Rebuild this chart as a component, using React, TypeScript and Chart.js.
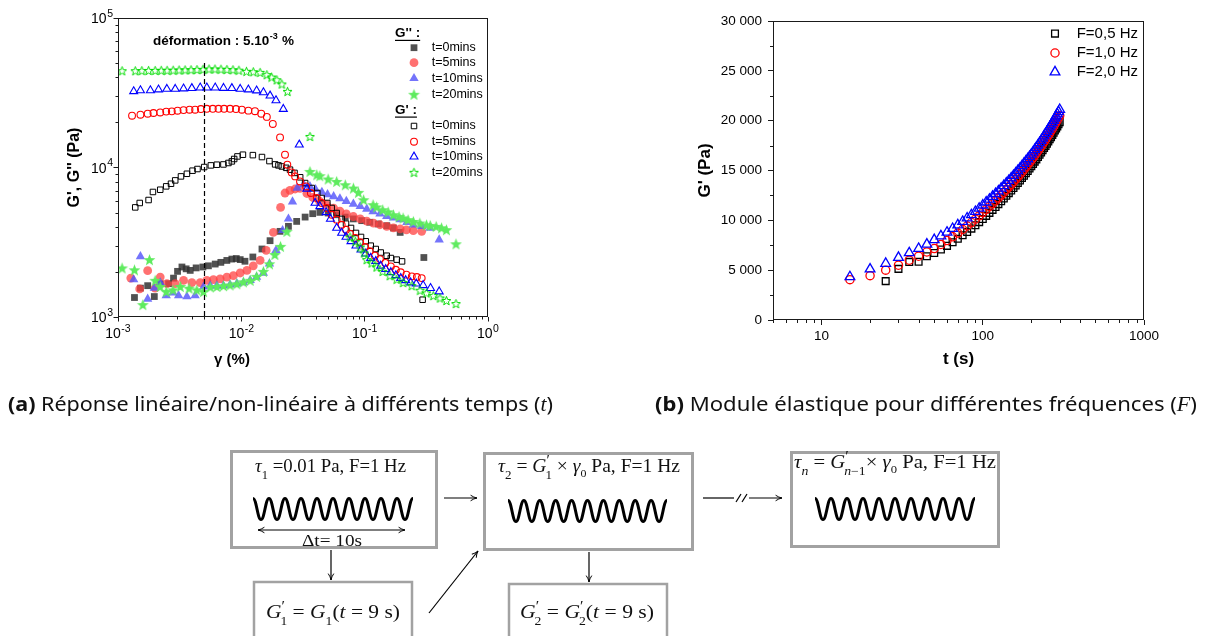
import React, { useEffect, useRef } from 'react';
import { Chart, registerables } from 'chart.js';

Chart.register(...registerables);

const FONT = "'Liberation Sans', Arial, Helvetica, sans-serif";
const SERIF = "'Liberation Serif', 'Times New Roman', serif";

// ================= Figure (a): G', G'' vs strain =================
const gammaTicks = [1e-3, 1e-2, 1e-1, 1];
const gammaTickExps = ['-3', '-2', '-1', '0'];
const modTicks = [1e3, 1e4, 1e5];
const modTickExps = ['3', '4', '5'];
const timeLabelsA = ['t=0mins', 't=5mins', 't=10mins', 't=20mins'];
const strainLine = 5e-3;
const strainLineTop = 5e4;
const annotPos = [1.92e-3, 7.0e4];

// G'' (filled symbols)
const gpp0 = [[1.36e-3,1350],[1.52e-3,1560],[1.74e-3,1620],[1.97e-3,1370],[2.2e-3,1670],[2.57e-3,1670],[2.82e-3,1820],[3.04e-3,2020],[3.3e-3,2160],[3.57e-3,2100],[3.85e-3,2050],[4.3e-3,2130],[4.88e-3,2160],[5.41e-3,2200],[6.14e-3,2260],[6.82e-3,2320],[7.63e-3,2390],[8.38e-3,2440],[9.1e-3,2460],[9.79e-3,2420],[1.07e-2,2360],[1.24e-2,2520],[1.47e-2,2850],[1.71e-2,3240],[2.06e-2,3740],[2.41e-2,4040],[2.81e-2,4360],[3.29e-2,4660],[3.79e-2,4910],[4.33e-2,5010],[5.06e-2,4960],[5.93e-2,4830],[6.96e-2,4660],[8.1e-2,4530],[9.47e-2,4410],[0.11,4300],[0.129,4190],[0.151,4080],[0.171,3940],[0.194,3680],[0.302,2500]];
const gpp5 = [[1.27e-3,1820],[1.5e-3,1540],[1.74e-3,2040],[2.0e-3,1560],[2.2e-3,1850],[2.49e-3,1670],[2.91e-3,1670],[3.4e-3,1760],[3.97e-3,1700],[4.64e-3,1700],[5.25e-3,1760],[5.94e-3,1780],[6.73e-3,1800],[7.63e-3,1850],[8.62e-3,1890],[9.79e-3,1970],[1.11e-2,2050],[1.25e-2,2200],[1.42e-2,2390],[1.59e-2,2790],[1.82e-2,3680],[2.08e-2,5410],[2.26e-2,6750],[2.48e-2,7030],[2.73e-2,7180],[2.99e-2,7250],[3.4e-2,6700],[3.8e-2,6300],[4.3e-2,5950],[4.9e-2,5650],[5.6e-2,5350],[6.3e-2,5100],[7.1e-2,4900],[8.1e-2,4700],[9.2e-2,4530],[0.104,4380],[0.118,4250],[0.133,4140],[0.151,4040],[0.171,3940],[0.194,3880],[0.218,3830],[0.248,3780],[0.29,3740]];
const gpp10 = [[1.34e-3,1780],[1.52e-3,2540],[1.74e-3,1320],[1.97e-3,1560],[2.2e-3,1700],[2.46e-3,1390],[2.79e-3,1450],[3.1e-3,1390],[3.62e-3,1370],[4.22e-3,1390],[4.94e-3,1590],[5.6e-3,1620],[6.33e-3,1620],[7.16e-3,1620],[8.1e-3,1640],[9.2e-3,1670],[1.04e-2,1700],[1.18e-2,1760],[1.33e-2,1850],[1.51e-2,1970],[1.69e-2,2270],[1.91e-2,2790],[2.16e-2,3800],[2.41e-2,4530],[2.6e-2,5900],[2.84e-2,7290],[3.2e-2,7700],[3.6e-2,7470],[4.0e-2,7150],[4.5e-2,6850],[5.0e-2,6600],[5.6e-2,6400],[6.3e-2,6200],[7.1e-2,5950],[8.1e-2,5700],[9.2e-2,5500],[0.104,5280],[0.117,5080],[0.133,4900],[0.151,4710],[0.171,4600],[0.194,4480],[0.22,4300],[0.248,4140],[0.29,4040],[0.339,3940],[0.402,3290]];
const gpp20 = [[1.08e-3,2130],[1.36e-3,2070],[1.59e-3,1210],[1.8e-3,2420],[2.0e-3,1760],[2.2e-3,1600],[2.46e-3,1480],[2.79e-3,1520],[3.2e-3,1600],[3.77e-3,1560],[4.36e-3,1520],[4.94e-3,1480],[5.6e-3,1590],[6.33e-3,1600],[7.16e-3,1620],[8.1e-3,1640],[9.2e-3,1670],[1.04e-2,1720],[1.18e-2,1760],[1.33e-2,1870],[1.51e-2,2020],[1.69e-2,2270],[1.87e-2,2620],[2.08e-2,2970],[2.34e-2,3740],[3.6e-2,9420],[4.09e-2,8950],[4.33e-2,8810],[5.06e-2,8380],[5.93e-2,8070],[6.96e-2,7670],[8.1e-2,7290],[8.9e-2,6820],[9.8e-2,6090],[0.117,5640],[0.125,5450],[0.14,5220],[0.155,5050],[0.171,4830],[0.19,4700],[0.205,4600],[0.225,4480],[0.248,4360],[0.28,4250],[0.317,4140],[0.34,4100],[0.38,4040],[0.42,3950],[0.46,3840],[0.55,3090]];

// G' (open symbols)
const gp0 = [[1.38e-3,5410],[1.5e-3,5790],[1.77e-3,6060],[1.92e-3,6860],[2.2e-3,7100],[2.46e-3,7480],[2.69e-3,7790],[2.91e-3,8200],[3.24e-3,8720],[3.62e-3,9080],[4.02e-3,9520],[4.41e-3,9770],[5.0e-3,10070],[5.66e-3,10330],[6.33e-3,10440],[7.16e-3,10480],[7.86e-3,10720],[8.38e-3,10990],[8.75e-3,11400],[9.3e-3,11860],[1.03e-2,12180],[1.24e-2,12100],[1.47e-2,11750],[1.69e-2,11040],[1.88e-2,10490],[2.0e-2,10330],[2.13e-2,10160],[2.31e-2,9950],[2.48e-2,9670],[2.7e-2,9200],[3.0e-2,8600],[3.29e-2,7870],[3.72e-2,7290],[4.13e-2,6750],[4.48e-2,6250],[4.98e-2,5790],[5.4e-2,5360],[5.93e-2,4960],[6.51e-2,4530],[7.06e-2,4210],[7.75e-2,3940],[8.5e-2,3650],[9.34e-2,3430],[0.102,3210],[0.112,3000],[0.123,2850],[0.135,2700],[0.151,2570],[0.163,2480],[0.182,2420],[0.201,2355],[0.295,1305]];
const gp5 = [[1.3e-3,22200],[1.52e-3,22550],[1.74e-3,22900],[1.94e-3,23150],[2.2e-3,23350],[2.46e-3,23650],[2.73e-3,23750],[3.04e-3,23990],[3.4e-3,24200],[3.8e-3,24350],[4.22e-3,24350],[4.7e-3,24600],[5.25e-3,24700],[5.87e-3,24700],[6.53e-3,24700],[7.25e-3,24700],[8.1e-3,24700],[9.05e-3,24600],[1.01e-2,24350],[1.14e-2,24000],[1.29e-2,23800],[1.45e-2,22900],[1.61e-2,21800],[1.8e-2,19550],[2.06e-2,15900],[2.26e-2,12180],[2.36e-2,10440],[2.56e-2,9270],[2.73e-2,8720],[2.99e-2,8070],[3.35e-2,7470],[3.66e-2,6750],[4.09e-2,6250],[4.48e-2,5790],[4.92e-2,5360],[5.4e-2,4830],[5.93e-2,4480],[6.51e-2,4140],[7.06e-2,3840],[7.6e-2,3610],[8.4e-2,3380],[9.2e-2,3160],[0.101,2940],[0.11,2750],[0.121,2570],[0.133,2440],[0.147,2300],[0.163,2180],[0.179,2070],[0.196,1990],[0.218,1920],[0.241,1870],[0.265,1850],[0.29,1820]];
const gp10 = [[1.34e-3,32300],[1.52e-3,32800],[1.83e-3,32800],[2.13e-3,33200],[2.49e-3,33500],[2.91e-3,33500],[3.4e-3,33700],[3.97e-3,33900],[4.64e-3,34200],[5.25e-3,34200],[6.14e-3,34200],[7.17e-3,34000],[8.38e-3,33900],[9.79e-3,33500],[1.14e-2,33200],[1.33e-2,32700],[1.51e-2,31800],[1.71e-2,30200],[1.91e-2,28100],[2.19e-2,24600],[2.95e-2,14200],[3.4e-2,7200],[3.96e-2,5790],[4.33e-2,5500],[4.87e-2,5010],[5.28e-2,4530],[5.93e-2,3940],[6.51e-2,3650],[7.06e-2,3430],[7.75e-2,3210],[8.5e-2,3000],[9.34e-2,2820],[0.102,2650],[0.112,2480],[0.123,2360],[0.135,2200],[0.148,2090],[0.163,1990],[0.179,1900],[0.196,1820],[0.215,1760],[0.236,1700],[0.262,1670],[0.298,1630],[0.342,1560],[0.402,1480]];
const gp20 = [[1.08e-3,44400],[1.38e-3,44400],[1.56e-3,44500],[1.77e-3,44600],[2.0e-3,44600],[2.24e-3,44700],[2.5e-3,44700],[2.8e-3,44800],[3.13e-3,44900],[3.5e-3,45000],[3.91e-3,45100],[4.37e-3,45200],[4.89e-3,45400],[5.47e-3,45600],[6.11e-3,45600],[6.84e-3,45500],[7.64e-3,45300],[8.55e-3,45100],[9.56e-3,44800],[1.1e-2,44000],[1.25e-2,43700],[1.42e-2,43300],[1.61e-2,41800],[1.76e-2,40300],[1.94e-2,38600],[2.13e-2,36200],[2.37e-2,32300],[3.6e-2,16150],[7.6e-2,3430],[8.4e-2,3210],[9.2e-2,2940],[9.9e-2,2680],[0.104,2420],[0.114,2300],[0.125,2160],[0.14,2020],[0.16,1890],[0.182,1790],[0.205,1700],[0.241,1620],[0.281,1510],[0.317,1450],[0.36,1390],[0.408,1340],[0.46,1290],[0.55,1230]];

// ================= Figure (b): G' vs time =================
const timesB = [15,20,25,30,35,40,45,50,55,60,65,70,75,80,85,90,95,100,105,110,115,120,125,130,135,140,145,150,155,160,165,170,175,180,185,190,195,200,205,210,215,220,225,230,235,240,245,250,255,260,265,270,275,280,285,290,295,300];
const gF05 = [null,null,3900,5130,5830,5850,6400,6720,7080,7440,7800,8150,8500,8840,9170,9500,9820,10140,10450,10750,11050,11340,11630,11910,12190,12460,12730,12990,13250,13500,13750,14000,14240,14480,14720,14960,15200,15430,15660,15890,16120,16350,16580,16810,17030,17250,17470,17690,17910,18130,18350,18570,18790,19010,19220,19430,19640,19850];
const gF10 = [4050,4450,5000,5500,6000,6400,6830,7170,7580,7970,8350,8720,9080,9430,9780,10120,10450,10780,11090,11390,11680,11970,12250,12530,12800,13070,13340,13600,13860,14110,14360,14610,14860,15100,15340,15580,15820,16050,16280,16510,16740,16970,17200,17430,17660,17880,18100,18320,18540,18760,18980,19200,19420,19640,19860,20080,20290,20500];
const gF20 = [4330,5100,5670,6270,6730,7170,7600,8050,8430,8800,9170,9530,9880,10220,10550,10880,11200,11520,11820,12110,12390,12670,12940,13210,13470,13730,13990,14240,14490,14740,14980,15220,15460,15700,15930,16160,16390,16620,16850,17080,17310,17540,17770,18000,18230,18460,18690,18910,19130,19350,19570,19790,20010,20230,20450,20670,20890,21110];
const legendB = ['F=0,5 Hz', 'F=1,0 Hz', 'F=2,0 Hz'];
const yTicksB = [0, 5000, 10000, 15000, 20000, 25000, 30000];
const xTicksB = [10, 100, 1000];

// ---------- helpers ----------
function makeStar(size, fill, stroke, lw) {
  const c = document.createElement('canvas');
  c.width = size; c.height = size;
  const g = c.getContext('2d');
  const cx = size / 2, cy = size / 2 + size * 0.05;
  const R = size / 2 - lw / 2 - 0.3, r = R * 0.42;
  g.beginPath();
  for (let i = 0; i < 10; i++) {
    const ang = -Math.PI / 2 + (i * Math.PI) / 5;
    const rad = i % 2 === 0 ? R : r;
    const px = cx + rad * Math.cos(ang), py = cy + rad * Math.sin(ang);
    if (i === 0) g.moveTo(px, py); else g.lineTo(px, py);
  }
  g.closePath();
  if (fill) { g.fillStyle = fill; g.fill(); }
  if (stroke) { g.strokeStyle = stroke; g.lineWidth = lw; g.stroke(); }
  return c;
}

function drawMarker(ctx, m, x, y) {
  ctx.save();
  if (m.img) {
    ctx.drawImage(m.img, x - m.img.width / 2, y - m.img.height / 2);
    ctx.restore();
    return;
  }
  ctx.beginPath();
  if (m.shape === 'rect') {
    const s = m.r * Math.SQRT1_2;
    ctx.rect(x - s, y - s, 2 * s, 2 * s);
  } else if (m.shape === 'circle') {
    ctx.arc(x, y, m.r, 0, Math.PI * 2);
  } else {
    for (let k = 0; k < 3; k++) {
      const a = -Math.PI / 2 + (k * 2 * Math.PI) / 3;
      const px = x + m.r * Math.cos(a), py = y + m.r * Math.sin(a);
      if (k === 0) ctx.moveTo(px, py); else ctx.lineTo(px, py);
    }
    ctx.closePath();
  }
  if (m.fill) { ctx.fillStyle = m.fill; ctx.fill(); }
  if (m.stroke && m.lw) { ctx.strokeStyle = m.stroke; ctx.lineWidth = m.lw; ctx.stroke(); }
  ctx.restore();
}

function ds(label, pts, m) {
  return {
    label,
    data: pts,
    showLine: false,
    pointStyle: m.img || m.shape,
    pointRadius: m.r || 5,
    pointHoverRadius: m.r || 5,
    pointBackgroundColor: m.fill || 'rgba(0,0,0,0)',
    pointBorderColor: m.stroke || 'rgba(0,0,0,0)',
    pointBorderWidth: m.lw || 0,
    backgroundColor: m.fill || 'rgba(0,0,0,0)',
    borderColor: m.stroke || 'rgba(0,0,0,0)',
  };
}

function frame(ctx, a) {
  ctx.save();
  ctx.strokeStyle = '#1a1a1a';
  ctx.lineWidth = 1;
  const l = Math.round(a.left) + 0.5, t = Math.round(a.top) + 0.5;
  const r = Math.round(a.right) - 0.5, b = Math.round(a.bottom) - 0.5;
  ctx.strokeRect(l, t, r - l, b - t);
  ctx.restore();
}

function logMinor(ctx, scale, a, horizontal, len) {
  ctx.save();
  ctx.strokeStyle = '#1a1a1a';
  ctx.lineWidth = 1;
  const e0 = Math.floor(Math.log10(scale.min) - 1e-9), e1 = Math.ceil(Math.log10(scale.max));
  for (let e = e0; e < e1; e++) {
    for (let m = 2; m <= 9; m++) {
      const v = m * Math.pow(10, e);
      if (v < scale.min * 0.999 || v > scale.max * 1.001) continue;
      const p = Math.round(scale.getPixelForValue(v)) + 0.5;
      ctx.beginPath();
      if (horizontal) { ctx.moveTo(p, a.bottom); ctx.lineTo(p, a.bottom + len); }
      else { ctx.moveTo(a.left, p); ctx.lineTo(a.left - len, p); }
      ctx.stroke();
    }
  }
  ctx.restore();
}

// "10" with a raised exponent
function drawPow(ctx, x, y, exp, align) {
  ctx.save();
  ctx.fillStyle = '#000';
  ctx.textAlign = 'left';
  ctx.textBaseline = 'alphabetic';
  ctx.font = `14px ${FONT}`;
  const wb = ctx.measureText('10').width;
  ctx.font = `10.5px ${FONT}`;
  const we = ctx.measureText(exp).width;
  const total = wb + 0.5 + we;
  const x0 = align === 'center' ? x - total / 2 : x - total;
  ctx.font = `14px ${FONT}`;
  ctx.fillText('10', x0, y);
  ctx.font = `10.5px ${FONT}`;
  ctx.fillText(exp, x0 + wb + 0.5, y - 6.5);
  ctx.restore();
}

function wavePath(x0, x1, yc, amp, n) {
  const p = (x1 - x0) / n;
  let d = `M${x0},${yc - amp}`;
  for (let i = 0; i < n; i++) {
    const xs = x0 + i * p;
    d += ` C${xs + p * 0.22},${yc - amp} ${xs + p * 0.28},${yc + amp} ${xs + p * 0.5},${yc + amp}`;
    d += ` C${xs + p * 0.72},${yc + amp} ${xs + p * 0.78},${yc - amp} ${xs + p},${yc - amp}`;
  }
  return d;
}

export default function App() {
  const refA = useRef(null);
  const refB = useRef(null);

  useEffect(() => {
    Chart.defaults.font.family = FONT;
    Chart.defaults.color = '#000';

    const starFilled = makeStar(13, 'rgb(95,235,95)', null, 0);
    const starOpen = makeStar(11, null, 'rgb(0,220,0)', 1);

    const mPP = [
      { shape: 'rect', r: 4.8, fill: 'rgba(50,50,50,0.85)' },
      { shape: 'circle', r: 4.4, fill: 'rgba(255,65,65,0.75)' },
      { shape: 'triangle', r: 5.4, fill: 'rgba(85,85,250,0.82)' },
      { img: starFilled },
    ];
    const mP = [
      { shape: 'rect', r: 3.9, stroke: '#000', lw: 1 },
      { shape: 'circle', r: 3.4, stroke: '#ff0000', lw: 1.1 },
      { shape: 'triangle', r: 4.6, stroke: '#0000ff', lw: 1.1 },
      { img: starOpen },
    ];

    const toPts = (arr) => arr.map(([x, y]) => ({ x, y }));

    const pluginA = {
      id: 'decorA',
      afterDraw(chart) {
        const { ctx, chartArea: a, scales } = chart;
        const xs = scales.x, ys = scales.y;
        frame(ctx, a);
        logMinor(ctx, xs, a, true, 2.5);
        logMinor(ctx, ys, a, false, 2.5);
        // tick labels with exponents
        gammaTicks.forEach((v, i) => drawPow(ctx, xs.getPixelForValue(v), a.bottom + 21, gammaTickExps[i], 'center'));
        modTicks.forEach((v, i) => drawPow(ctx, a.left - 5, ys.getPixelForValue(v) + 5, modTickExps[i], 'right'));
        ctx.save();
        // dashed line at strain of the test
        const px = Math.round(xs.getPixelForValue(strainLine)) + 0.5;
        ctx.strokeStyle = '#000';
        ctx.lineWidth = 1.2;
        ctx.setLineDash([5, 3]);
        ctx.beginPath();
        ctx.moveTo(px, ys.getPixelForValue(strainLineTop));
        ctx.lineTo(px, a.bottom);
        ctx.stroke();
        ctx.setLineDash([]);
        // annotation
        const ax = xs.getPixelForValue(annotPos[0]);
        const ay = ys.getPixelForValue(annotPos[1]);
        ctx.fillStyle = '#000';
        ctx.textBaseline = 'middle';
        ctx.textAlign = 'left';
        ctx.font = `bold 13.5px ${FONT}`;
        const p1 = 'déformation : 5.10';
        ctx.fillText(p1, ax, ay);
        const w1 = ctx.measureText(p1).width;
        ctx.font = `bold 9px ${FONT}`;
        ctx.fillText('-3', ax + w1 + 0.5, ay - 4.5);
        const w2 = ctx.measureText('-3').width;
        ctx.font = `bold 13.5px ${FONT}`;
        ctx.fillText(' %', ax + w1 + w2 + 1, ay);
        // legend
        const hx = a.right - 93, mx = a.right - 74, tx = a.right - 56.3;
        const drawHeader = (txt, y) => {
          ctx.font = `bold 13.5px ${FONT}`;
          ctx.fillText(txt, hx, y);
          const w = ctx.measureText(txt).width;
          ctx.fillRect(hx, y + 6.5, w, 1.2);
        };
        drawHeader("G'' :", a.top + 15.3);
        const rows1 = [29.7, 44.7, 60.3, 76.3];
        const rows2 = [108, 123.7, 138.7, 154.3];
        drawHeader("G' :", a.top + 92);
        for (let i = 0; i < 4; i++) {
          drawMarker(ctx, mPP[i], mx, a.top + rows1[i]);
          ctx.fillStyle = '#000';
          ctx.font = `12.5px ${FONT}`;
          ctx.fillText(timeLabelsA[i], tx, a.top + rows1[i]);
          drawMarker(ctx, mP[i], mx, a.top + rows2[i]);
          ctx.fillStyle = '#000';
          ctx.font = `12.5px ${FONT}`;
          ctx.fillText(timeLabelsA[i], tx, a.top + rows2[i]);
        }
        // x-axis title
        ctx.font = `bold 15px ${FONT}`;
        ctx.textAlign = 'center';
        ctx.fillText('γ (%)', 232, 360);
        ctx.restore();
      },
    };

    const chartA = new Chart(refA.current, {
      type: 'scatter',
      data: {
        datasets: [
          ds("G' t=20", toPts(gp20), mP[3]),
          ds("G' t=10", toPts(gp10), mP[2]),
          ds("G' t=5", toPts(gp5), mP[1]),
          ds("G' t=0", toPts(gp0), mP[0]),
          ds("G'' t=20", toPts(gpp20), mPP[3]),
          ds("G'' t=10", toPts(gpp10), mPP[2]),
          ds("G'' t=5", toPts(gpp5), mPP[1]),
          ds("G'' t=0", toPts(gpp0), mPP[0]),
        ],
      },
      options: {
        animation: false,
        responsive: false,
        devicePixelRatio: 1,
        layout: { padding: { top: 18, right: 12, left: 0, bottom: 0 } },
        plugins: { legend: { display: false }, tooltip: { enabled: false } },
        scales: {
          x: {
            type: 'logarithmic',
            min: 1e-3,
            max: 1,
            afterFit: (s) => { s.height = 58; },
            afterBuildTicks: (s) => { s.ticks = gammaTicks.map((v) => ({ value: v })); },
            ticks: { display: false, autoSkip: false },
            grid: { drawOnChartArea: false, drawTicks: true, tickLength: 4.5, tickColor: '#1a1a1a' },
            border: { display: false },
          },
          y: {
            type: 'logarithmic',
            min: 1e3,
            max: 1e5,
            afterFit: (s) => { s.width = 118; },
            afterBuildTicks: (s) => { s.ticks = modTicks.map((v) => ({ value: v })); },
            ticks: { display: false, autoSkip: false },
            grid: { drawOnChartArea: false, drawTicks: true, tickLength: 4.5, tickColor: '#1a1a1a' },
            border: { display: false },
            title: {
              display: true,
              text: "G', G'' (Pa)",
              font: { size: 16, weight: 'bold', family: FONT },
              color: '#000',
              padding: { top: 65, bottom: 0 },
            },
          },
        },
      },
      plugins: [pluginA],
    });

    // ---------- chart (b) ----------
    const mB = [
      { shape: 'rect', r: 4.8, stroke: '#000', lw: 1.3 },
      { shape: 'circle', r: 4.1, stroke: '#ff0000', lw: 1.3 },
      { shape: 'triangle', r: 5.6, stroke: '#0000ff', lw: 1.3 },
    ];
    const seriesB = [gF05, gF10, gF20];
    const ptsB = seriesB.map((arr) =>
      timesB.map((t, i) => ({ x: t, y: arr[i] })).filter((p) => p.y !== null)
    );

    const pluginB = {
      id: 'decorB',
      afterDraw(chart) {
        const { ctx, chartArea: a, scales } = chart;
        frame(ctx, a);
        logMinor(ctx, scales.x, a, true, 3);
        ctx.save();
        ctx.strokeStyle = '#1a1a1a';
        ctx.lineWidth = 1;
        for (let v = 2500; v < 30000; v += 5000) {
          const p = Math.round(scales.y.getPixelForValue(v)) + 0.5;
          ctx.beginPath();
          ctx.moveTo(a.left, p);
          ctx.lineTo(a.left - 3, p);
          ctx.stroke();
        }
        const rows = [12.6, 32, 51];
        ctx.font = `15px ${FONT}`;
        ctx.textBaseline = 'middle';
        ctx.textAlign = 'left';
        for (let i = 0; i < 3; i++) {
          drawMarker(ctx, mB[i], a.right - 89, a.top + rows[i]);
          ctx.fillStyle = '#000';
          ctx.fillText(legendB[i], a.right - 67.3, a.top + rows[i]);
        }
        ctx.restore();
      },
    };

    const fmtK = (v) => (v === 0 ? '0' : `${Math.floor(v / 1000)} ${String(v % 1000).padStart(3, '0')}`);

    const chartB = new Chart(refB.current, {
      type: 'scatter',
      data: {
        datasets: [
          ds(legendB[2], ptsB[2], mB[2]),
          ds(legendB[1], ptsB[1], mB[1]),
          ds(legendB[0], ptsB[0], mB[0]),
        ],
      },
      options: {
        animation: false,
        responsive: false,
        devicePixelRatio: 1,
        layout: { padding: { top: 21, right: 61, left: 0, bottom: 0 } },
        plugins: { legend: { display: false }, tooltip: { enabled: false } },
        scales: {
          x: {
            type: 'logarithmic',
            min: 5,
            max: 1000,
            afterFit: (s) => { s.height = 55; },
            afterBuildTicks: (s) => { s.ticks = xTicksB.map((v) => ({ value: v })); },
            ticks: {
              callback: (v) => String(v),
              font: { size: 13.5, family: FONT },
              color: '#000',
              padding: 3,
              maxRotation: 0,
              autoSkip: false,
            },
            grid: { drawOnChartArea: false, drawTicks: true, tickLength: 5, tickColor: '#1a1a1a' },
            border: { display: false },
            title: {
              display: true,
              text: 't (s)',
              font: { size: 17, weight: 'bold', family: FONT },
              color: '#000',
              padding: { top: 0, bottom: 5 },
            },
          },
          y: {
            type: 'linear',
            min: 0,
            max: 30000,
            afterFit: (s) => { s.width = 123; },
            afterBuildTicks: (s) => { s.ticks = yTicksB.map((v) => ({ value: v })); },
            ticks: {
              callback: (v) => fmtK(v),
              font: { size: 13.5, family: FONT },
              color: '#000',
              padding: 6,
              autoSkip: false,
            },
            grid: { drawOnChartArea: false, drawTicks: true, tickLength: 5, tickColor: '#1a1a1a' },
            border: { display: false },
            title: {
              display: true,
              text: "G' (Pa)",
              font: { size: 17, weight: 'bold', family: FONT },
              color: '#000',
              padding: { top: 45, bottom: 0 },
            },
          },
        },
      },
      plugins: [pluginB],
    });

    return () => {
      chartA.destroy();
      chartB.destroy();
    };
  }, []);

  const boxStroke = '#a2a2a2';
  const sub = { fontSize: 12, baselineShift: 'sub' };
  const sup = { fontSize: 14, baselineShift: 'super' };

  return (
    <div style={{ position: 'absolute', left: 0, top: 0, width: 1205, height: 636, overflow: 'hidden', background: '#fff' }}>
      <canvas ref={refA} width={500} height={375} style={{ position: 'absolute', left: 0, top: 0, width: 500, height: 375 }} />
      <canvas ref={refB} width={555} height={375} style={{ position: 'absolute', left: 650, top: 0, width: 555, height: 375 }} />
      <svg width={1205} height={636} style={{ position: 'absolute', left: 0, top: 0, pointerEvents: 'none' }}>
        <defs>
          <marker id="ah" viewBox="0 0 10 10" refX="9" refY="5" markerWidth="8" markerHeight="8" orient="auto-start-reverse" markerUnits="userSpaceOnUse">
            <path d="M1,1.5 Q5,4.3 9,5 Q5,5.7 1,8.5" fill="none" stroke="#000" strokeWidth="1.2" />
          </marker>
        </defs>

        {/* captions */}
        <text x={8} y={411} fontFamily="'Noto Sans', sans-serif" fontSize={20} fill="#111" textLength={545} lengthAdjust="spacingAndGlyphs">
          <tspan fontWeight="bold">(a)</tspan> Réponse linéaire/non-linéaire à différents temps (<tspan fontFamily={SERIF} fontStyle="italic">t</tspan>)
        </text>
        <text x={655} y={411} fontFamily="'Noto Sans', sans-serif" fontSize={20} fill="#111" textLength={542} lengthAdjust="spacingAndGlyphs">
          <tspan fontWeight="bold">(b)</tspan> Module élastique pour différentes fréquences (<tspan fontFamily={SERIF} fontStyle="italic">F</tspan>)
        </text>

        {/* diagram boxes */}
        <rect x={231.5} y={451.5} width={205} height={96} fill="none" stroke={boxStroke} strokeWidth={3} />
        <rect x={484.5} y={453.5} width={208} height={96} fill="none" stroke={boxStroke} strokeWidth={3} />
        <rect x={791.5} y={452.5} width={207} height={94} fill="none" stroke={boxStroke} strokeWidth={3} />
        <rect x={254} y={582} width={158} height={70} fill="none" stroke={boxStroke} strokeWidth={2.5} />
        <rect x={509} y={584} width={158} height={70} fill="none" stroke={boxStroke} strokeWidth={2.5} />

        {/* waves */}
        <path d={wavePath(253, 413, 509, 10.5, 10)} fill="none" stroke="#000" strokeWidth={3} />
        <path d={wavePath(508, 667, 511, 10.5, 10)} fill="none" stroke="#000" strokeWidth={3} />
        <path d={wavePath(815, 975, 509, 10.5, 10)} fill="none" stroke="#000" strokeWidth={3} />

        {/* box texts */}
        <text x={255} y={472} fontFamily={SERIF} fontSize={18} fill="#111" textLength={151} lengthAdjust="spacingAndGlyphs">
          <tspan fontStyle="italic">τ</tspan><tspan {...sub}>1</tspan> =0.01 Pa, F=1 Hz
        </text>
        <text x={498} y={472} fontFamily={SERIF} fontSize={18} fill="#111" textLength={182} lengthAdjust="spacingAndGlyphs">
          <tspan fontStyle="italic">τ</tspan><tspan {...sub}>2</tspan> = <tspan fontStyle="italic">G</tspan><tspan {...sup}>′</tspan><tspan {...sub} dx={-4}>1</tspan> × <tspan fontStyle="italic">γ</tspan><tspan fontSize={11} baselineShift="-45%">0</tspan> Pa, F=1 Hz
        </text>
        <text x={794} y={468} fontFamily={SERIF} fontSize={18} fill="#111" textLength={202} lengthAdjust="spacingAndGlyphs">
          <tspan fontStyle="italic">τ</tspan><tspan {...sub} fontStyle="italic">n</tspan> = <tspan fontStyle="italic">G</tspan><tspan {...sup}>′</tspan><tspan {...sub} dx={-4}><tspan fontStyle="italic">n</tspan>−1</tspan>× <tspan fontStyle="italic">γ</tspan><tspan fontSize={11} baselineShift="-45%">0</tspan> Pa, F=1 Hz
        </text>
        <text x={266} y={618} fontFamily={SERIF} fontSize={19} fill="#111" textLength={134} lengthAdjust="spacingAndGlyphs">
          <tspan fontStyle="italic">G</tspan><tspan {...sup}>′</tspan><tspan {...sub} dx={-4}>1</tspan> = <tspan fontStyle="italic">G</tspan><tspan {...sub}>1</tspan>(<tspan fontStyle="italic">t</tspan> = 9 s)
        </text>
        <text x={520} y={618} fontFamily={SERIF} fontSize={19} fill="#111" textLength={134} lengthAdjust="spacingAndGlyphs">
          <tspan fontStyle="italic">G</tspan><tspan {...sup}>′</tspan><tspan {...sub} dx={-4}>2</tspan> = <tspan fontStyle="italic">G</tspan><tspan {...sup}>′</tspan><tspan {...sub} dx={-4}>2</tspan>(<tspan fontStyle="italic">t</tspan> = 9 s)
        </text>

        {/* Δt double arrow */}
        <line x1={258} y1={530} x2={405} y2={530} stroke="#000" strokeWidth={1.2} markerStart="url(#ah)" markerEnd="url(#ah)" />
        <text x={302} y={546} fontFamily={SERIF} fontSize={17} fill="#111" textLength={60} lengthAdjust="spacingAndGlyphs">Δt= 10s</text>

        {/* arrows */}
        <line x1={444} y1={498} x2={477} y2={498} stroke="#000" strokeWidth={1.2} markerEnd="url(#ah)" />
        <line x1={703} y1={498} x2={734} y2={498} stroke="#000" strokeWidth={1.2} />
        <line x1={736} y1={502} x2={741} y2={494} stroke="#000" strokeWidth={1.2} />
        <line x1={742} y1={502} x2={747} y2={494} stroke="#000" strokeWidth={1.2} />
        <line x1={749} y1={498} x2={782} y2={498} stroke="#000" strokeWidth={1.2} markerEnd="url(#ah)" />
        <line x1={331} y1={550} x2={331} y2={580} stroke="#000" strokeWidth={1.2} markerEnd="url(#ah)" />
        <line x1={589} y1={552} x2={589} y2={582} stroke="#000" strokeWidth={1.2} markerEnd="url(#ah)" />
        <line x1={429} y1={613} x2={478} y2={551} stroke="#000" strokeWidth={1.2} markerEnd="url(#ah)" />
      </svg>
    </div>
  );
}
